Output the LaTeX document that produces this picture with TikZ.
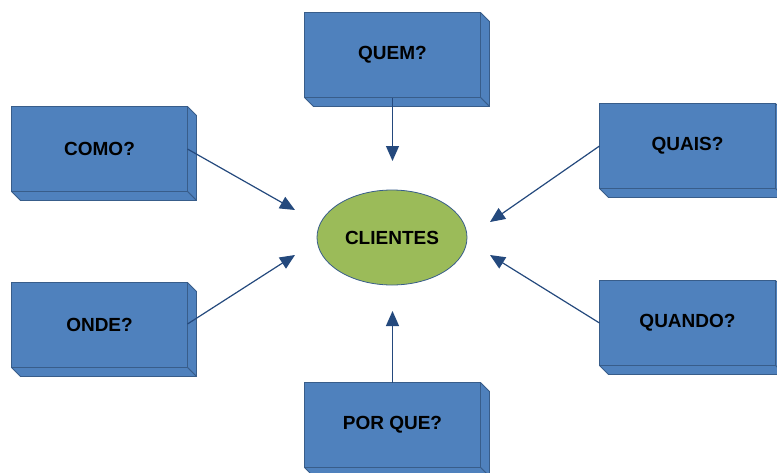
\documentclass[tikz,border=0pt]{standalone}
\usepackage{fontspec}
\setmainfont{Liberation Sans}
\usetikzlibrary{arrows.meta,calc,shapes.geometric}
\definecolor{boxblue}{HTML}{4F81BD}
\definecolor{boxline}{HTML}{385D8A}
\definecolor{elgreen}{HTML}{9BBB59}
\definecolor{arrowblue}{HTML}{24497D}
\tikzset{
  qbox/.style={draw=boxline, fill=boxblue, line width=0.8pt, minimum width=176pt, minimum height=85pt, inner sep=0pt, outer sep=0pt, font=\fontsize{19}{21}\selectfont\bfseries},
  side/.style={draw=boxline, fill=boxblue, line width=0.8pt, line join=round},
  conn/.style={draw=arrowblue, line width=1.2pt, -{Triangle[length=15pt,width=13pt]}},
}
\newcommand\extrude[1]{%
  \filldraw[side] (#1.north east) -- ++(9,9) -- ($(#1.south east)+(9,9)$) -- (#1.south east) -- cycle;
  \filldraw[side] (#1.south west) -- ++(9,9) -- ($(#1.south east)+(9,9)$) -- (#1.south east) -- cycle;
}
\begin{document}
\begin{tikzpicture}[x=1pt,y=-1pt]
\useasboundingbox (0,0) rectangle (777,472);
\node[qbox] (quem) at (392.5,55) {QUEM?};
\node[qbox] (como) at (99.5,149) {COMO?};
\node[qbox] (onde) at (99.5,325) {ONDE?};
\node[qbox] (quais) at (687.5,146) {QUAIS?};
\node[qbox] (quando) at (687.5,323) {QUANDO?};
\node[qbox] (porque) at (392.5,425) {POR QUE?};
\extrude{quem}\extrude{como}\extrude{onde}\extrude{quais}\extrude{quando}\extrude{porque}
\node[ellipse, draw=boxline, fill=elgreen, line width=0.8pt, minimum width=150pt, minimum height=95pt, inner sep=0pt, font=\fontsize{19}{21}\selectfont\bfseries] (cli) at (392,237.5) {CLIENTES};
\coordinate (tquem) at (392.5,161);
\coordinate (tcomo) at (295,210);
\coordinate (tonde) at (295,255);
\coordinate (tquais) at (490,222);
\coordinate (tquando) at (490,255);
\coordinate (tporque) at (392.5,311);
\draw[conn] (quem.south) -- (tquem);
\draw[conn] (como.east) -- (tcomo);
\draw[conn] ($(onde.east)+(0,-1)$) -- (tonde);
\draw[conn] (quais.west) -- (tquais);
\draw[conn] (quando.west) -- (tquando);
\draw[conn] (porque.north) -- (tporque);
\end{tikzpicture}
\end{document}
